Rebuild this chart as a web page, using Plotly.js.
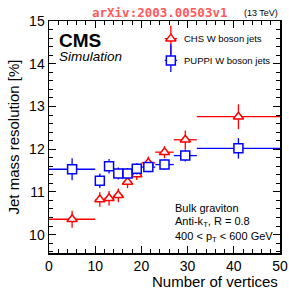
<!DOCTYPE html>
<html><head><meta charset="utf-8">
<script src="https://cdn.plot.ly/plotly-3.0.1.min.js"></script>
<style>html,body{margin:0;padding:0;background:#fff}#c{width:289px;height:289px}</style>
</head><body><div id="c"></div>
<script>
// Data
const binCenters = [5, 11, 13, 15, 17, 19, 21.5, 25, 29.5, 41];
const binHalfWidths = [5, 1, 1, 1, 1, 1, 1.5, 2, 2.5, 9];
const chsRes = [10.36, 10.82, 10.85, 10.92, 11.23, 11.41, 11.68, 11.93, 12.22, 12.76];
const chsErr = [0.20, 0.17, 0.17, 0.16, 0.14, 0.13, 0.15, 0.14, 0.22, 0.29];
const puppiRes = [11.53, 11.26, 11.60, 11.43, 11.43, 11.54, 11.58, 11.64, 11.85, 12.02];
const puppiErr = [0.26, 0.17, 0.17, 0.14, 0.13, 0.13, 0.12, 0.12, 0.14, 0.24];
const seriesNames = ["CHS W boson jets", "PUPPI W boson jets"];

const RED = "#ff0000", BLUE = "#0000ff";
const F = "Liberation Sans, Arial, sans-serif";

function series(y, err, color, symbol) {
  return {
    x: binCenters, y: y, type: "scatter", mode: "markers", showlegend: false,
    marker: {symbol: symbol, size: 9, color: "#ffffff", line: {color: color, width: 1.5}},
    error_y: {type: "data", array: err, color: color, thickness: 1.3, width: 0},
    error_x: {type: "data", array: binHalfWidths, color: color, thickness: 1.3, width: 0},
    cliponaxis: false
  };
}
function legendItem(yPos, color, symbol) {
  return {
    x: [0.5], y: [yPos], xaxis: "x2", yaxis: "y2", type: "scatter", mode: "markers",
    showlegend: false, hoverinfo: "skip",
    marker: {symbol: symbol, size: 9, color: "#ffffff", line: {color: color, width: 1.5}},
    error_y: {type: "constant", value: 0.35, color: color, thickness: 1.3, width: 0},
    error_x: {type: "constant", value: 0.5, color: color, thickness: 1.3, width: 0}
  };
}

const data = [
  series(chsRes, chsErr, RED, "triangle-up"),
  series(puppiRes, puppiErr, BLUE, "square"),
  legendItem(0.72, RED, "triangle-up"),
  legendItem(0.25, BLUE, "square")
];

const axBase = {
  showgrid: false, zeroline: false, showline: true, linecolor: "#000", linewidth: 1.5,
  mirror: "allticks", ticks: "inside", tickcolor: "#000", tickwidth: 1,
  tickfont: {family: F, size: 14, color: "#000"}
};

const layout = {
  width: 289, height: 289,
  margin: {l: 49, r: 9, t: 21, b: 36},
  paper_bgcolor: "#fff", plot_bgcolor: "#fff",
  font: {family: F, color: "#000"},
  xaxis: Object.assign({}, axBase, {
    range: [0, 50], dtick: 10, tick0: 0, ticklen: 7,
    minor: {dtick: 2, ticks: "inside", ticklen: 4, tickcolor: "#000"}
  }),
  yaxis: Object.assign({}, axBase, {
    range: [9.57, 15], dtick: 1, tick0: 10, ticklen: 7,
    minor: {dtick: 0.2, ticks: "inside", ticklen: 4, tickcolor: "#000"},
    title: {text: "Jet mass resolution [%]", font: {family: F, size: 15}, standoff: 6}
  }),
  xaxis2: {domain: [0.5, 0.555], range: [0, 1], visible: false, fixedrange: true, anchor: "y2"},
  yaxis2: {domain: [0.78, 0.98], range: [0, 1], visible: false, fixedrange: true, anchor: "x2"},
  annotations: [
    {xref: "paper", yref: "paper", x: 1.0, y: 0, yshift: -28, xanchor: "right", yanchor: "middle",
     text: "Number of vertices", showarrow: false, font: {family: F, size: 15}},
    {xref: "paper", yref: "paper", x: 0.575, y: 0.923, xanchor: "left", yanchor: "middle",
     text: seriesNames[0], showarrow: false, font: {family: F, size: 9.5}},
    {xref: "paper", yref: "paper", x: 0.575, y: 0.83, xanchor: "left", yanchor: "middle",
     text: seriesNames[1], showarrow: false, font: {family: F, size: 9.5}},
    {xref: "paper", yref: "paper", x: 0.035, y: 0.915, xanchor: "left", yanchor: "middle",
     text: "<b>CMS</b>", showarrow: false, font: {family: F, size: 19}},
    {xref: "paper", yref: "paper", x: 0.035, y: 0.845, xanchor: "left", yanchor: "middle",
     text: "<i>Simulation</i>", showarrow: false, font: {family: F, size: 13.5}},
    {xref: "paper", yref: "paper", x: 0.535, y: 0.196, xanchor: "left", yanchor: "middle",
     text: "Bulk graviton", showarrow: false, font: {family: F, size: 11}},
    {xref: "paper", yref: "paper", x: 0.535, y: 0.132, xanchor: "left", yanchor: "middle",
     text: "Anti-k<sub>T</sub>, R = 0.8", showarrow: false, font: {family: F, size: 11}},
    {xref: "paper", yref: "paper", x: 0.535, y: 0.068, xanchor: "left", yanchor: "middle",
     text: "400 < p<sub>T</sub> < 600 GeV", showarrow: false, font: {family: F, size: 11}},
    {xref: "paper", yref: "paper", x: 0.48, y: 1.0, yshift: 9, xanchor: "center", yanchor: "middle",
     text: "<b>arXiv:2003.00503v1</b>", showarrow: false,
     font: {family: "DejaVu Sans Mono, monospace", size: 12.5, color: "#ff5a5a"}},
    {xref: "paper", yref: "paper", x: 1.0, y: 1.0, yshift: 8, xanchor: "right", yanchor: "middle",
     text: "(13 TeV)", showarrow: false, font: {family: F, size: 9}}
  ]
};

Plotly.newPlot("c", data, layout, {staticPlot: true, displayModeBar: false});
</script>
</body></html>
